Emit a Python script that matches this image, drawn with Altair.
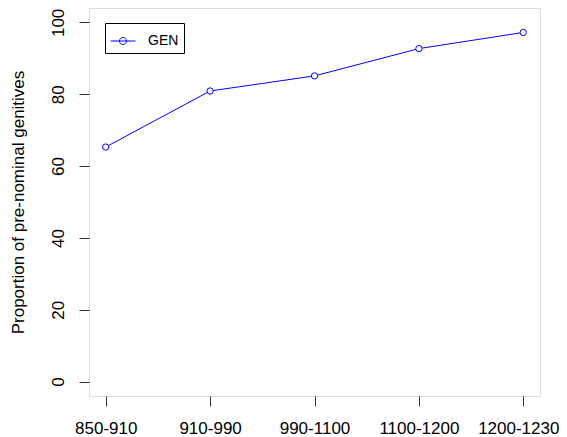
import altair as alt
import pandas as pd

periods = ["850-910", "910-990", "990-1100", "1100-1200", "1200-1230"]
gen_values = [65.3, 80.9, 85.1, 92.7, 97.2]
series_name = ["GEN"] * len(periods)
y_ticks = [0, 20, 40, 60, 80, 100]

df = pd.DataFrame({"period": periods, "value": gen_values, "series": series_name})

FONT = "Liberation Sans"
legend_path = "M-1,0L1,0M0.28,0A0.28,0.28,0,1,1,-0.28,0A0.28,0.28,0,1,1,0.28,0"

last_label_test = f"datum.value == '{periods[-1]}'"

chart = alt.Chart(df).mark_line(
    strokeWidth=1,
    point=alt.OverlayMarkDef(filled=False, fill="white", size=40, strokeWidth=1),
).encode(
    x=alt.X(
        "period:N",
        sort=periods,
        scale=alt.Scale(type="point", padding=0.16),
        axis=alt.Axis(
            title=None, labelAngle=0, labelFont=FONT, labelFontSize=17,
            labelColor="#000", tickSize=10, tickColor="#333", domain=False,
            labelPadding=14, grid=False, labelBaseline="top",
            labelOffset={"condition": {"test": last_label_test, "value": -5}, "value": 0},
        ),
    ),
    y=alt.Y(
        "value:Q",
        scale=alt.Scale(domain=[-4, 104], nice=False, zero=False),
        axis=alt.Axis(
            title="Proportion of pre-nominal genitives", values=y_ticks,
            labelAngle=-90, labelAlign="center", labelBaseline="bottom",
            labelFont=FONT, labelFontSize=17, labelColor="#000", labelPadding=12,
            tickSize=10, tickColor="#333", domain=False, grid=False,
            titleFont=FONT, titleFontSize=17, titleFontWeight="normal", titleColor="#000",
            titleX=-62, titleY=194, titleAngle=-90, titleAlign="center",
            titleBaseline="bottom",
        ),
    ),
    color=alt.Color(
        "series:N",
        scale=alt.Scale(domain=["GEN"], range=["#0000ff"]),
        legend=alt.Legend(
            title=None, orient="none", legendX=16, legendY=15,
            symbolType=legend_path, symbolSize=625, symbolStrokeWidth=1,
            symbolFillColor="transparent", symbolStrokeColor="#0000ff",
            labelFont=FONT, labelFontSize=14, labelColor="#000", labelOffset=12,
            padding=5, strokeColor="#000", fillColor="white",
        ),
    ),
).properties(
    width=451,
    height=388,
    autosize=alt.AutoSizeParams(type="none"),
    padding={"left": 81, "top": 0, "right": 19, "bottom": 41},
).configure_view(
    stroke="#000", strokeWidth=1
).configure(background="white")

chart.save("out.html", embed_options={"renderer": "svg", "actions": False})
